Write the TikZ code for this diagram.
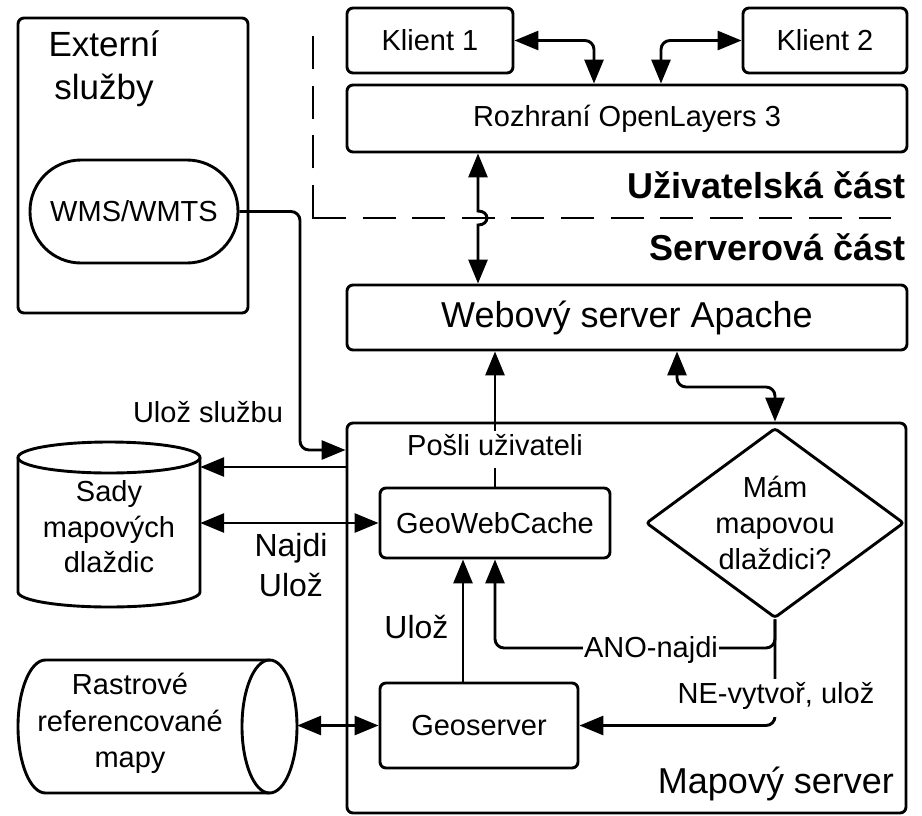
\documentclass[tikz,border=0pt]{standalone}
\usepackage{fontspec}
\setmainfont{Liberation Sans}
\usetikzlibrary{arrows.meta,shapes.geometric}
\begin{document}
\begin{tikzpicture}[x=1pt,y=-1pt,
  >={Triangle[length=24pt,width=19pt]},
  base/.style={line width=2.9pt},
  box/.style={draw, line width=2.9pt, rounded corners=6pt, inner sep=0pt, font=\fontsize{29}{35}\selectfont},
  txt/.style={inner sep=0pt, font=\fontsize{29}{35}\selectfont},
  lbl/.style={fill=white, inner xsep=1.5pt, inner ysep=3pt, font=\fontsize{29}{35}\selectfont},
  conn/.style={line width=2.9pt, rounded corners=9pt, line join=round},
  dashline/.style={line width=2.9pt, dash pattern=on 33pt off 16.6pt}]
\path[fill=white] (0,0) rectangle (922,815);

% external services
\node[box, minimum width=230pt, minimum height=295pt] (ext) at (133,165.5) {};
\node[txt, align=center, font=\fontsize{35}{43}\selectfont] (extlbl) at (104,69) {Externí\\služby};
\node[box, minimum width=208pt, minimum height=103pt, rounded corners=51pt] (wms) at (134,211.5) {WMS/WMTS};

% user part
\node[box, minimum width=166pt, minimum height=65pt] (k1) at (430,40.5) {Klient 1};
\node[box, minimum width=164pt, minimum height=65pt] (k2) at (825,40.5) {Klient 2};
\node[box, minimum width=560pt, minimum height=67pt] (rozh) at (627,118.5) {Rozhraní OpenLayers 3};

% dashed separator
\draw[dashline] (313,218) -- (313,33);
\draw[dashline] (313,218) -- (891,218);
\draw[line width=2.9pt] (313,205) -- (313,218) -- (326,218);

\node[txt, anchor=base east, font=\bfseries\fontsize{36}{43}\selectfont] (ucast) at (906,198) {Uživatelská část};
\node[txt, anchor=base east, font=\bfseries\fontsize{36}{43}\selectfont] (scast) at (906,260) {Serverová část};

% server part
\node[box, minimum width=560pt, minimum height=65pt, font=\fontsize{36}{43}\selectfont] (web) at (627,317.5) {Webový server Apache};
\node[box, minimum width=559pt, minimum height=390pt] (map) at (626.5,618) {};
\node[txt, anchor=base, font=\fontsize{36}{43}\selectfont] (maplbl) at (776,793) {Mapový server};
\node[box, minimum width=230pt, minimum height=70pt] (gwc) at (495,523) {GeoWebCache};
\node[box, minimum width=198pt, minimum height=85pt] (geo) at (479,725.5) {Geoserver};
\node[box, shape=diamond, aspect=1.358, minimum width=258pt, minimum height=190pt, rounded corners=3pt, align=center, font=\fontsize{29}{36}\selectfont] (dia) at (775,523) {Mám\\mapovou\\dlaždici?};

% tile store cylinder
\node[txt, align=center, minimum width=182pt, minimum height=165pt, font=\fontsize{29}{35.5}\selectfont] (sady) at (109,527) {Sady\\mapových\\dlaždic};
\draw[base] (109,457.5) ellipse[x radius=91, y radius=15.5];
\draw[base] (18,457.5) -- (18,592) arc[start angle=180, end angle=0, x radius=91, y radius=15] -- (200,457.5);

% raster maps cylinder
\node[inner sep=0pt, minimum width=279pt, minimum height=133pt] (ras) at (157.5,726.5) {};
\node[txt, align=center, font=\fontsize{29}{36.5}\selectfont] (rastxt) at (130,723.5) {Rastrové\\referencované\\mapy};
\draw[base] (269.5,660) -- (45.5,660) arc[start angle=270, end angle=90, x radius=27.5, y radius=66.5] -- (269.5,793);
\draw[base] (269.5,726.5) ellipse[x radius=27.5, y radius=66.5];

% connectors
\draw[conn, <->] (k1.east) -| ([xshift=-33pt]rozh.north);
\draw[conn, <->] (k2.west) -| ([xshift=34pt]rozh.north);
\coordinate (rw) at ([xshift=-149pt]rozh.south);
\draw[line width=2.9pt, <->] (rw) -- (rw |- 0,211) .. controls +(12,0) and +(12,0) .. (rw |- 0,225) -- (rw |- web.north);
\coordinate (wd) at ([xshift=50pt]web.south);
\draw[conn, <->] (wd) -- (wd |- 0,387) -| (dia.north |- map.north);
\draw[conn, ->] (gwc.north) -- (gwc.north |- web.south);
\node[lbl, anchor=base, text depth=10pt] (posli) at (495,455) {Pošli uživateli};
\draw[conn, ->] (wms.east) -| (300,450) -- (map.west |- 0,450);
\node[txt, anchor=base] (ulozsl) at (208,422) {Ulož službu};
\draw[conn, ->] (map.west |- 0,467) -- (sady.east |- 0,467);
\draw[conn, <->] (sady.east |- gwc.west) -- (gwc.west);
\node[txt, align=center, font=\fontsize{32}{40}\selectfont] (najdi) at (291,565.3) {Najdi\\Ulož};
\draw[conn, <->] (ras.east |- geo.west) -- (geo.west);
\coordinate (gu) at ([xshift=-16pt]geo.north);
\draw[conn, ->] (gu) -- (gu |- gwc.south);
\node[txt, anchor=base, font=\fontsize{32}{40}\selectfont] (uloz) at (416.5,638) {Ulož};
\draw[conn, ->] (dia.south) |- (gwc.south |- 0,648) -- (gwc.south);
\draw[conn, ->] (dia.south) |- (geo.east);
\node[lbl, anchor=base] (ano) at (651,657) {ANO-najdi};
\node[lbl, anchor=base, text depth=11pt] (ne) at (776,703) {NE-vytvoř, ulož};
\end{tikzpicture}
\end{document}
